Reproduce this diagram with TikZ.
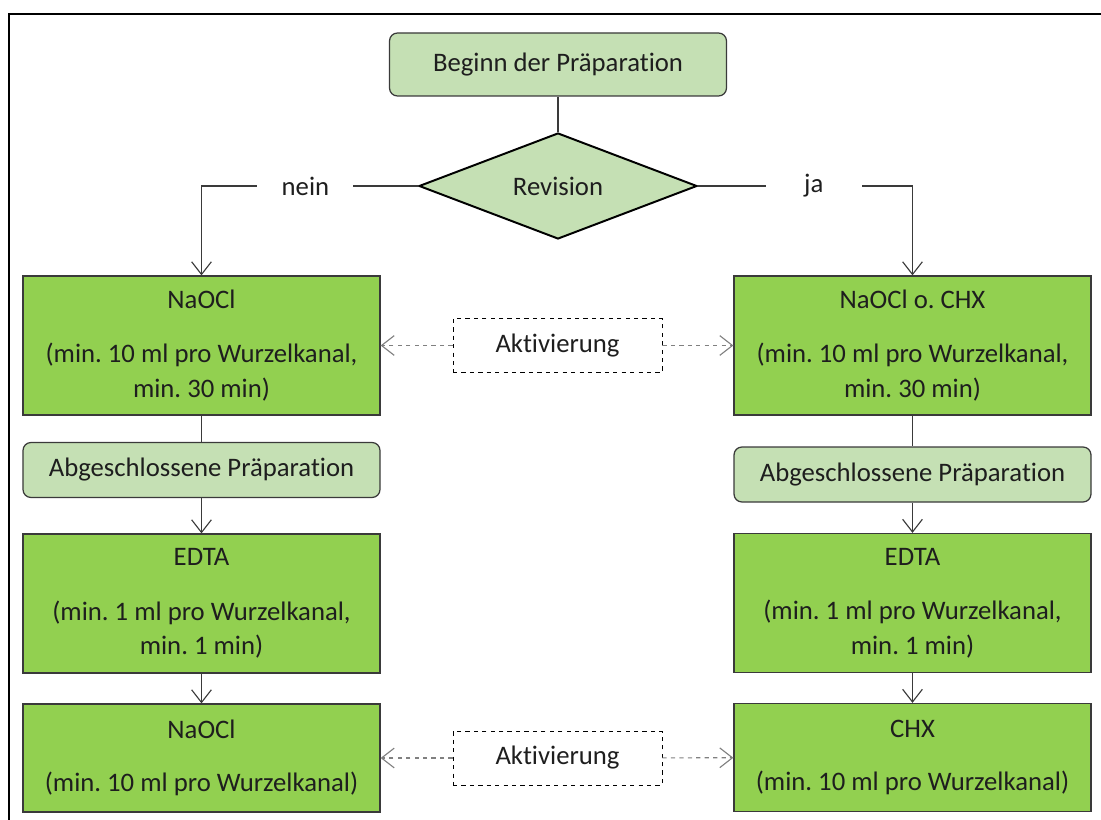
\documentclass[tikz,border=0pt]{standalone}
\usepackage{fontspec}
\setmainfont{Carlito}[Ligatures=NoCommon]
\usetikzlibrary{positioning,shapes.geometric,arrows.meta}
\frenchspacing

\definecolor{grasgruen}{HTML}{92D050}
\definecolor{hellgruen}{HTML}{C5E0B4}
\definecolor{rahmen}{HTML}{3A3A3A}
\definecolor{schrift}{HTML}{1E1E1E}

\begin{document}
\begin{tikzpicture}[
        on grid,
        font=\fontsize{19}{24.8}\selectfont,
        text=schrift,
        block/.style={rectangle, draw=rahmen, fill=grasgruen, line width=0.9pt, align=center, minimum width=8.925cm, minimum height=3.475cm},
        lowblock/.style={block, minimum height=2.7cm},
        stage/.style={rectangle, rounded corners=0.2cm, draw=rahmen, fill=hellgruen, line width=0.9pt, minimum width=8.925cm, minimum height=1.375cm},
        decision/.style={diamond, draw=black, fill=hellgruen, line width=1.4pt, aspect=2.62, minimum width=6.95cm, minimum height=2.65cm, inner sep=0pt},
        optional/.style={rectangle, draw=black, dashed, line width=0.7pt, minimum width=5.225cm, minimum height=1.35cm},
        gap/.style={fill=white, minimum width=2.4cm, inner sep=2pt},
        line/.style={draw=rahmen, line width=0.8pt},
        flow/.style={line, -{Straight Barb[length=9pt, width=14pt, line width=0.8pt]}},
        activation/.style={draw=gray, dashed, line width=0.8pt, -{Straight Barb[length=9pt, width=14pt, line width=0.8pt]}}
    ]
        \useasboundingbox (0,0) rectangle (27.525,-20.5);

        % frame (cut off at right and bottom)
        \draw[line width=2pt] (27.525,-0.35) -- (0.2,-0.35);
        \draw[line width=1.3pt] (0.225,-0.35) -- (0.225,-20.5);

        \node [stage, minimum width=8.425cm, minimum height=1.575cm] (begin) at (13.95,-1.6125) {Beginn der Präparation};
        \node [decision, below=3.0375cm of begin] (rev) {Revision};

        % without revision
        \node [block, below left=3.9875cm and 8.9125cm of rev] (naoclL) {NaOCl\\[14pt](min. 10 ml pro Wurzelkanal,\\min. 30 min)};
        \node [stage, below=3.1125cm of naoclL] (doneL) {Abgeschlossene Präparation};
        \node [block, below=3.3375cm of doneL] (edtaL) {EDTA\\[14pt](min. 1 ml pro Wurzelkanal,\\min. 1 min)};
        \node [lowblock, below=3.8625cm of edtaL] (rinseL) {NaOCl\\[13pt](min. 10 ml pro Wurzelkanal)};

        % revision
        \node [block, right=17.775cm of naoclL] (naoclR) {NaOCl o. CHX\\[14pt](min. 10 ml pro Wurzelkanal,\\min. 30 min)};
        \node [stage, below=3.225cm of naoclR] (doneR) {Abgeschlossene Präparation};
        \node [block, below=3.2125cm of doneR] (edtaR) {EDTA\\[14pt](min. 1 ml pro Wurzelkanal,\\min. 1 min)};
        \node [lowblock, below=3.8625cm of edtaR] (rinseR) {CHX\\[13pt](min. 10 ml pro Wurzelkanal)};

        % activation
        \node [optional, right=8.9cm of naoclL] (act1) {Aktivierung};
        \node [optional, right=8.9cm of rinseL] (act2) {Aktivierung};

        \path [line] (begin) -- (rev);
        \path [flow] (rev.west) -| node[gap, pos=0.26] {nein} (naoclL.north);
        \path [flow] (rev.east) -| node[gap, pos=0.27] {ja} (naoclR.north);

        \path [line] (naoclL) -- (doneL);
        \path [flow] (doneL) -- (edtaL);
        \path [flow] (edtaL) -- (rinseL);
        \path [line] (naoclR) -- (doneR);
        \path [flow] (doneR) -- (edtaR);
        \path [flow] (edtaR) -- (rinseR);

        \draw [activation] (act1) -- (naoclL);
        \draw [activation] (act1) -- (naoclR);
        \draw [activation] (act2) -- (rinseL);
        \draw [activation] (act2) -- (rinseR);
    \end{tikzpicture}
\end{document}
